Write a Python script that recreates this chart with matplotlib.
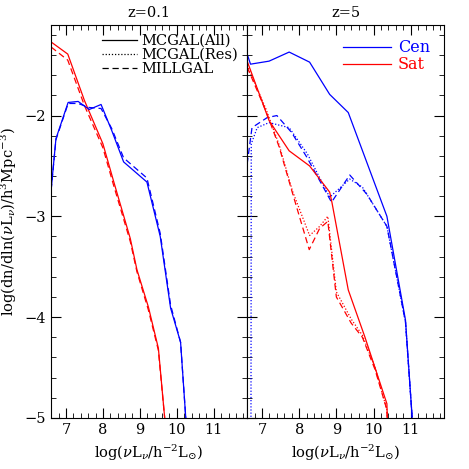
import matplotlib
matplotlib.use("Agg")
import matplotlib.pyplot as plt
from matplotlib.ticker import MultipleLocator
from matplotlib.lines import Line2D

# z=0.1 panel
L_rs_x = [6.6, 7.05, 7.5, 8.0, 8.28, 8.74, 8.92, 9.23, 9.5, 9.67]
L_rs_y = [-1.27, -1.39, -1.85, -2.28, -2.64, -3.22, -3.53, -3.90, -4.31, -5.0]
L_rd_x = [6.6, 7.05, 7.5, 8.0, 8.28, 8.74, 8.92, 9.23, 9.5, 9.67]
L_rd_y = [-1.32, -1.45, -1.9, -2.32, -2.68, -3.25, -3.55, -3.93, -4.33, -5.0]
L_bs_x = [6.6, 6.73, 7.06, 7.33, 7.63, 7.95, 8.24, 8.56, 9.19, 9.55, 9.83, 10.1, 10.24]
L_bs_y = [-2.74, -2.23, -1.87, -1.86, -1.94, -1.89, -2.15, -2.46, -2.66, -3.2, -3.91, -4.25, -5.0]
L_bd_x = [6.6, 6.73, 7.06, 7.33, 7.63, 7.95, 8.24, 8.56, 9.19, 9.55, 9.83, 10.1, 10.24]
L_bd_y = [-2.74, -2.24, -1.88, -1.88, -1.92, -1.93, -2.13, -2.42, -2.62, -3.17, -3.88, -4.25, -5.0]

# z=5 panel
R_bs_x = [6.6, 6.69, 7.19, 7.73, 8.28, 8.82, 9.32, 10.36, 10.86, 11.04]
R_bs_y = [-1.39, -1.49, -1.46, -1.37, -1.47, -1.79, -1.97, -3.0, -4.03, -5.0]
R_bd_x = [6.6, 6.73, 7.14, 7.4, 7.8, 8.2, 8.87, 9.36, 9.82, 10.36, 10.86, 11.04]
R_bd_y = [-2.48, -2.12, -2.02, -2.0, -2.17, -2.41, -2.86, -2.59, -2.78, -3.1, -4.05, -5.0]
R_bo_x = [6.7, 6.71, 6.87, 7.19, 7.73, 8.22, 8.82, 9.36, 9.7, 10.36, 10.86, 11.04]
R_bo_y = [-6.0, -2.28, -2.12, -2.07, -2.12, -2.38, -2.81, -2.63, -2.71, -3.1, -4.05, -5.0]
R_rs_x = [6.6, 7.19, 7.73, 8.28, 8.82, 8.88, 9.32, 9.77, 10.36, 10.37]
R_rs_y = [-1.46, -2.05, -2.35, -2.5, -2.76, -2.86, -3.73, -4.2, -4.86, -5.0]
R_rd_x = [6.6, 7.1, 7.46, 7.82, 8.27, 8.55, 8.77, 9.0, 9.4, 9.7, 10.04, 10.36, 10.37]
R_rd_y = [-1.52, -1.95, -2.31, -2.77, -3.33, -3.12, -3.05, -3.8, -4.06, -4.2, -4.52, -4.92, -5.0]
R_ro_x = [6.6, 7.1, 7.46, 7.82, 8.28, 8.55, 8.77, 9.0, 9.4, 9.7, 10.04, 10.36, 10.37]
R_ro_y = [-1.5, -1.93, -2.29, -2.75, -3.19, -3.1, -3.0, -3.75, -4.02, -4.18, -4.5, -4.92, -5.0]

BLUE = "#0000ff"
RED = "#ff0000"
plt.rcParams['font.family'] = ['DejaVu Serif']
plt.rcParams['mathtext.fontset'] = 'dejavuserif'

fig = plt.figure(figsize=(4.69, 4.69), dpi=100)
ax1 = fig.add_axes([0.109, 0.109, 0.418, 0.838])
ax2 = fig.add_axes([0.527, 0.109, 0.420, 0.838], sharey=ax1)

lw = 0.9
ax1.plot(L_rs_x, L_rs_y, color=RED, lw=lw)
ax1.plot(L_rd_x, L_rd_y, color=RED, lw=lw, ls=(0, (5, 3)))
ax1.plot(L_bs_x, L_bs_y, color=BLUE, lw=lw)
ax1.plot(L_bd_x, L_bd_y, color=BLUE, lw=lw, ls=(0, (5, 3)))

ax2.plot(R_bs_x, R_bs_y, color=BLUE, lw=lw)
ax2.plot(R_bd_x, R_bd_y, color=BLUE, lw=lw, ls=(0, (5, 3)))
ax2.plot(R_bo_x, R_bo_y, color=BLUE, lw=lw, ls=(0, (1, 1.5)))
ax2.plot(R_rs_x, R_rs_y, color=RED, lw=lw)
ax2.plot(R_rd_x, R_rd_y, color=RED, lw=lw, ls=(0, (5, 3)))
ax2.plot(R_ro_x, R_ro_y, color=RED, lw=lw, ls=(0, (1, 1.5)))

h = [Line2D([], [], color='k', lw=lw),
     Line2D([], [], color='k', lw=lw, ls=(0, (1, 1.5))),
     Line2D([], [], color='k', lw=lw, ls=(0, (5, 3)))]
ax1.legend(h, ['MCGAL(All)', 'MCGAL(Res)', 'MILLGAL'], loc='upper right',
           frameon=False, fontsize=10.5, handlelength=2.4, labelspacing=0.0,
           borderaxespad=0.2, handletextpad=0.3)
h2 = [Line2D([], [], color=BLUE, lw=lw), Line2D([], [], color=RED, lw=lw)]
leg2 = ax2.legend(h2, ['Cen', 'Sat'], loc='upper right', frameon=False,
                  fontsize=11.5, handlelength=3.0, labelspacing=0.0,
                  borderaxespad=0.5, handletextpad=0.4)
for t, c in zip(leg2.get_texts(), [BLUE, RED]):
    t.set_color(c)

for ax in (ax1, ax2):
    ax.set_xlim(6.6, 11.9)
    ax.set_ylim(-5, -1.1)
    ax.xaxis.set_major_locator(MultipleLocator(1))
    ax.xaxis.set_minor_locator(MultipleLocator(0.2))
    ax.yaxis.set_major_locator(MultipleLocator(1))
    ax.yaxis.set_minor_locator(MultipleLocator(0.2))
    ax.tick_params(which='both', direction='in', top=True, right=True, labelsize=10.5)
    ax.tick_params(which='major', length=7)
    ax.tick_params(which='minor', length=3.5)
    ax.set_xticks([7, 8, 9, 10, 11])
    ax.set_xlabel(r'log($\nu$L$_\nu$/h$^{-2}$L$_{\odot}$)', fontsize=10.5)
ax2.tick_params(labelleft=False)
ax1.set_ylabel(r'log(dn/dln($\nu$L$_\nu$)/h$^3$Mpc$^{-3}$)', fontsize=10.5)
ax1.set_title('z=0.1', fontsize=10.5)
ax2.set_title('z=5', fontsize=10.5)

fig.savefig('out.png', dpi=100)
